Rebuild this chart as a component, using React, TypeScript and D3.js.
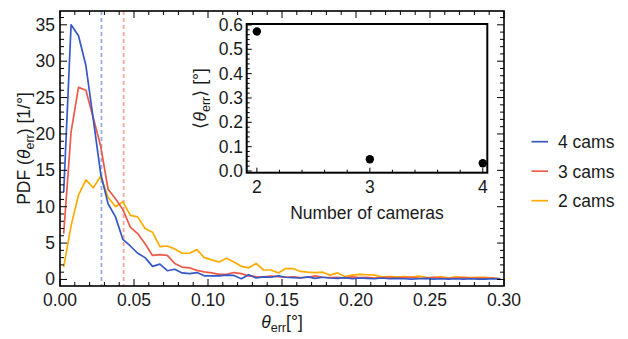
import React from "react";
import * as d3 from "d3";

// Histogram bin centres (degrees)
const binCenters = [
  0.0025, 0.0075, 0.0125, 0.0175, 0.0225, 0.0275, 0.0325, 0.0375, 0.0425, 0.0475,
  0.0525, 0.0575, 0.0625, 0.0675, 0.0725, 0.0775, 0.0825, 0.0875, 0.0925, 0.0975,
  0.1025, 0.1075, 0.1125, 0.1175, 0.1225, 0.1275, 0.1325, 0.1375, 0.1425, 0.1475,
  0.1525, 0.1575, 0.1625, 0.1675, 0.1725, 0.1775, 0.1825, 0.1875, 0.1925, 0.1975,
  0.2025, 0.2075, 0.2125, 0.2175, 0.2225, 0.2275, 0.2325, 0.2375, 0.2425, 0.2475,
  0.2525, 0.2575, 0.2625, 0.2675, 0.2725, 0.2775, 0.2825, 0.2875, 0.2925, 0.2975,
];

// PDF of the angular error for each camera count (1/deg)
const pdf4cams = [
  12.0, 35.0, 33.5, 29.4, 22.0, 14.5, 10.4, 8.6, 5.5, 4.6,
  3.6, 3.0, 1.8, 2.1, 1.2, 1.4, 0.9, 0.8, 0.95, 0.5,
  0.5, 0.5, 0.6, 0.55, 0.1, 0.65, 0.2, 0.35, 0.3, 0.5,
  0.3, 0.25, 0.2, 0.35, 0.15, 0.3, 0.2, 0.15, 0.25, 0.1,
  0.2, 0.15, 0.1, 0.2, 0.1, 0.15, 0.1, 0.05, 0.1, 0.15,
  0.05, 0.1, 0.05, 0.1, 0.05, 0.1, 0.05, 0.05, 0.1, 0.05,
];
const pdf3cams = [
  6.3, 20.3, 26.4, 26.0, 22.2, 18.3, 12.4, 11.1, 9.6, 7.2,
  6.3, 4.9, 3.3, 3.4, 3.3, 2.2, 1.7, 1.6, 1.25, 1.05,
  0.9, 0.7, 0.7, 0.95, 0.8, 0.5, 0.4, 0.35, 0.45, 0.4,
  0.3, 0.35, 0.25, 0.3, 0.5, 0.3, 0.25, 0.3, 0.2, 0.35,
  0.25, 0.3, 0.2, 0.25, 0.3, 0.2, 0.25, 0.3, 0.2, 0.15,
  0.3, 0.2, 0.15, 0.2, 0.25, 0.15, 0.2, 0.15, 0.2, 0.1,
];
const pdf2cams = [
  1.7, 7.4, 11.6, 13.7, 12.6, 14.2, 11.3, 10.0, 10.7, 8.8,
  8.6, 7.0, 6.5, 4.5, 4.6, 4.2, 3.6, 3.6, 4.1, 3.0,
  2.7, 2.4, 2.9, 2.4, 1.8, 1.6, 2.2, 1.3, 1.3, 0.9,
  1.5, 1.5, 1.1, 1.0, 0.95, 1.0, 0.6, 0.9, 0.4, 0.6,
  0.7, 0.65, 0.6, 0.35, 0.4, 0.35, 0.4, 0.3, 0.45, 0.3,
  0.25, 0.4, 0.2, 0.35, 0.3, 0.25, 0.3, 0.3, 0.2, 0.1,
];

const seriesLabels = ["4 cams", "3 cams", "2 cams"];
const seriesColors = ["#3558c8", "#ee5a48", "#ffaa00"];
const dashColors = ["#97abe4", "#f7a79d"];

// Mean error markers for 4 and 3 cameras (deg)
const meanLines = [0.028, 0.043];

// Inset: mean error versus number of cameras
const cameraCounts = [2, 3, 4];
const meanErr = [0.573, 0.048, 0.032];

const xTicks = [0, 0.05, 0.1, 0.15, 0.2, 0.25, 0.3];
const yTicks = [0, 5, 10, 15, 20, 25, 30, 35];
const insetYTicks = [0, 0.1, 0.2, 0.3, 0.4, 0.5, 0.6];

const FONT = "'Liberation Sans', Arial, sans-serif";
const FS = 17.5;
const INK = "#1a1a1a";

export default function App() {
  const L = 60, R = 504, T = 11, B = 286;
  const x = d3.scaleLinear().domain([0, 0.3]).range([L, R]);
  const y = d3.scaleLinear().domain([-0.9, 36.9]).range([B, T]);

  const iL = 246.7, iR = 487.3, iT = 24, iB = 172.7;
  const ix = d3.scaleLinear().domain([1.91, 4.04]).range([iL, iR]);
  const iy = d3.scaleLinear().domain([-0.007, 0.604]).range([iB, iT]);

  const line = d3
    .line<[number, number]>()
    .x((d) => x(d[0]))
    .y((d) => y(d[1]));

  const series = [pdf4cams, pdf3cams, pdf2cams];
  // draw order: 2 cams bottom-most, 4 cams on top
  const drawOrder = [2, 1, 0];

  const xMinor = d3.range(0, 0.3001, 0.01);
  const yMinor = d3.range(0, 36.5, 1);
  const iyMinor = d3.range(0, 0.6001, 0.02);
  const ixMinor = d3.range(2, 4.001, 0.2);

  const majorLen = 7, minorLen = 4;

  return (
    <div style={{ position: "fixed", left: 0, top: 0 }}>
      <svg width={628} height={339} style={{ display: "block", background: "#fff" }} fontFamily={FONT}>
        <defs>
          <clipPath id="plotClip">
            <rect x={L} y={T} width={R - L} height={B - T} />
          </clipPath>
        </defs>

        {/* mean markers */}
        {meanLines.map((v, i) => (
          <line key={"m" + i} x1={x(v)} x2={x(v)} y1={T} y2={B} stroke={dashColors[i]} strokeWidth={1.8} strokeDasharray="4,3" />
        ))}

        {/* PDF curves */}
        <g clipPath="url(#plotClip)">
          {drawOrder.map((si) => (
            <path
              key={"s" + si}
              d={line(binCenters.map((c, i) => [c, series[si][i]] as [number, number])) || ""}
              fill="none"
              stroke={seriesColors[si]}
              strokeWidth={1.7}
              strokeLinejoin="round"
            />
          ))}
        </g>

        {/* frame ticks */}
        <g stroke="#000" strokeWidth={1}>
          {xMinor.map((v, i) => {
            const major = Math.abs(v / 0.05 - Math.round(v / 0.05)) < 1e-6;
            const len = major ? majorLen : minorLen;
            return (
              <g key={"xt" + i}>
                <line x1={x(v)} x2={x(v)} y1={B} y2={B - len} />
                <line x1={x(v)} x2={x(v)} y1={T} y2={T + len} />
              </g>
            );
          })}
          {yMinor.map((v, i) => {
            const len = v % 5 === 0 ? majorLen : minorLen;
            return (
              <g key={"yt" + i}>
                <line x1={L} x2={L + len} y1={y(v)} y2={y(v)} />
                <line x1={R} x2={R - len} y1={y(v)} y2={y(v)} />
              </g>
            );
          })}
        </g>
        <rect x={L} y={T} width={R - L} height={B - T} fill="none" stroke="#000" strokeWidth={1.6} />

        {/* tick labels */}
        <g fontSize={FS} fill={INK}>
          {xTicks.map((v) => (
            <text key={"xl" + v} x={x(v)} y={306} textAnchor="middle">
              {v.toFixed(2)}
            </text>
          ))}
          {yTicks.map((v) => (
            <text key={"yl" + v} x={55} y={y(v) + 6} textAnchor="end">
              {v}
            </text>
          ))}
        </g>

        {/* axis titles */}
        <text x={282} y={328} textAnchor="middle" fontSize={FS} fill={INK}>
          <tspan fontStyle="italic">θ</tspan>
          <tspan fontSize={FS * 0.72} dy={4}>err</tspan>
          <tspan dy={-4}>[°]</tspan>
        </text>
        <text transform={`translate(30, ${(T + B) / 2}) rotate(-90)`} textAnchor="middle" fontSize={FS} fill={INK}>
          <tspan>PDF (</tspan>
          <tspan fontStyle="italic">θ</tspan>
          <tspan fontSize={FS * 0.72} dy={4}>err</tspan>
          <tspan dy={-4}>) [1/°]</tspan>
        </text>

        {/* inset */}
        <rect x={iL} y={iT} width={iR - iL} height={iB - iT} fill="#fff" />
        <g stroke="#000" strokeWidth={1}>
          {iyMinor.map((v, i) => {
            const major = Math.abs(v / 0.1 - Math.round(v / 0.1)) < 1e-6;
            return <line key={"iyt" + i} x1={iL} x2={iL + (major ? 5 : 3)} y1={iy(v)} y2={iy(v)} />;
          })}
          {ixMinor.map((v, i) => {
            const major = Math.abs(v - Math.round(v)) < 1e-6;
            return <line key={"ixt" + i} x1={ix(v)} x2={ix(v)} y1={iB} y2={iB - (major ? 5 : 3)} />;
          })}
        </g>
        <rect x={iL} y={iT} width={iR - iL} height={iB - iT} fill="none" stroke="#000" strokeWidth={2} />
        {cameraCounts.map((c, i) => (
          <circle key={"pt" + c} cx={ix(c)} cy={iy(meanErr[i])} r={4.2} fill="#000" />
        ))}
        <g fontSize={FS} fill={INK}>
          {insetYTicks.map((v) => (
            <text key={"iyl" + v} x={243} y={iy(v) + 6} textAnchor="end">
              {v.toFixed(1)}
            </text>
          ))}
          {cameraCounts.map((c) => (
            <text key={"ixl" + c} x={ix(c)} y={193} textAnchor="middle">
              {c}
            </text>
          ))}
          <text x={(iL + iR) / 2} y={219} textAnchor="middle">
            Number of cameras
          </text>
          <text transform={`translate(206, ${(iT + iB) / 2}) rotate(-90)`} textAnchor="middle">
            <tspan>⟨</tspan>
            <tspan fontStyle="italic">θ</tspan>
            <tspan fontSize={FS * 0.72} dy={4}>err</tspan>
            <tspan dy={-4}>⟩ [°]</tspan>
          </text>
        </g>

        {/* legend */}
        {seriesLabels.map((lab, i) => (
          <g key={"lg" + i}>
            <line x1={531.5} x2={548} y1={141.7 + i * 29.5} y2={141.7 + i * 29.5} stroke={seriesColors[i]} strokeWidth={1.7} />
            <text x={558} y={148 + i * 29.5} fontSize={FS} fill={INK}>
              {lab}
            </text>
          </g>
        ))}
      </svg>
    </div>
  );
}
